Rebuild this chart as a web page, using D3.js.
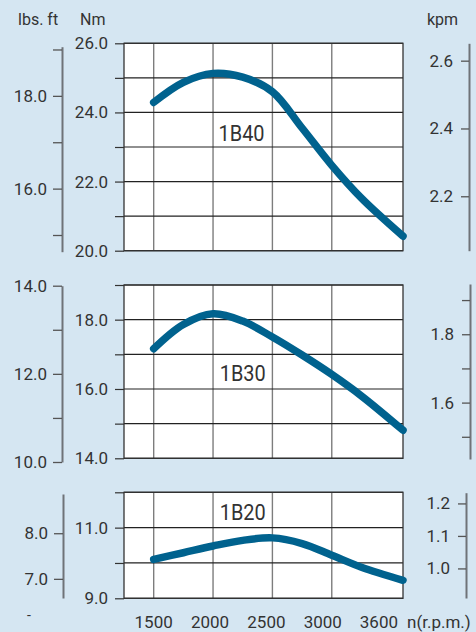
<!DOCTYPE html>
<html>
<head>
<meta charset="utf-8">
<script src="https://cdn.jsdelivr.net/npm/d3@7"></script>
<style>
  body { margin: 0; background: #d5e6f2; }
  svg { display: block; }
  text { font-family: Roboto, "Liberation Sans", sans-serif; fill: #333; }
</style>
</head>
<body>
<svg id="chart" width="476" height="632"></svg>
<script>
// engine speed (r.p.m.)
const rpm = [1500, 1750, 2000, 2250, 2500, 2750, 3000, 3250, 3600];
// torque curves, Nm
const torque1B40 = [24.29, 24.87, 25.13, 25.02, 24.60, 23.55, 22.47, 21.52, 20.42];
const torque1B30 = [17.16, 17.86, 18.17, 17.96, 17.50, 16.98, 16.42, 15.80, 14.81];
const torque1B20 = [10.10, 10.29, 10.48, 10.64, 10.71, 10.55, 10.22, 9.88, 9.51];
const models = ["1B40", "1B30", "1B20"];

// tick values
const rpmGrid = [1500, 2000, 2500, 3000];
const rpmLabels = ["1500", "2000", "2500", "3000"];
const nmTicks = [[20, 21, 22, 23, 24, 25, 26], [14, 15, 16, 17, 18, 19], [9, 10, 11, 12]];
const nmLabels = [[20, 22, 24, 26], [14, 16, 18], [9, 11]];
const lbsTicks = [[15, 16, 17, 18, 19], [10, 11, 12, 13, 14], [7, 8]];
const lbsLabels = [[16, 18], [10, 12, 14], [7, 8]];
const kpmTicks = [[2.2, 2.4, 2.6], [1.5, 1.6, 1.7, 1.8, 1.9], [1.0, 1.1, 1.2]];
const kpmLabels = [[2.2, 2.4, 2.6], [1.6, 1.8], [1.0, 1.1, 1.2]];

const svg = d3.select("#chart");
const W = 476, H = 632;
svg.append("rect").attr("width", W).attr("height", H).attr("fill", "#d5e6f2");

const x = d3.scaleLinear().domain([1250, 3600]).range([124, 403]);

// panel layout (pixel extents and axis domains)
const panels = [
	{ data: torque1B40, top: 43.3, bottom: 250.7, nm: [20, 26],
	  lbsX: 62, lbs: [14.64, 19.06], lbsRange: [251.7, 46.7],
	  kpmX: 469, kpm: [20 / 9.80665, 26 / 9.80665], kpmRange: [250.7, 43.3],
	  label: [2240, 23.18] },
	{ data: torque1B30, top: 285, bottom: 458.3, nm: [14, 19],
	  lbsX: 62, lbs: [10, 14], lbsRange: [462, 285.7],
	  kpmX: 470, kpm: [1.435, 1.947], kpmRange: [459, 284],
	  label: [2250, 16.24] },
	{ data: torque1B20, top: 492.3, bottom: 598.3, nm: [9, 12],
	  lbsX: 63, lbs: [6.58, 8.86], lbsRange: [598, 494],
	  kpmX: 466, kpm: [0.909, 1.233], kpmRange: [598, 492.7],
	  label: [2250, 11.23] }
];

const fmt = d3.format(".1f");

panels.forEach((p, i) => {
	const y = d3.scaleLinear().domain(p.nm).range([p.bottom, p.top]);
	const g = svg.append("g").attr("class", `panel_${i}`);

	// plot background
	g.append("rect")
		.attr("x", x.range()[0]).attr("y", p.top)
		.attr("width", x.range()[1] - x.range()[0])
		.attr("height", p.bottom - p.top)
		.attr("fill", "#fff");

	// vertical grid (gray)
	g.selectAll(".vgrid")
		.data(rpmGrid)
		.enter()
		.append("line")
		.attr("x1", d => x(d)).attr("x2", d => x(d))
		.attr("y1", p.top).attr("y2", p.bottom)
		.attr("stroke", "#7d7d7d")
		.attr("stroke-width", 1.4);

	// horizontal grid (dark)
	g.selectAll(".hgrid")
		.data(nmTicks[i])
		.enter()
		.append("line")
		.attr("x1", x.range()[0]).attr("x2", x.range()[1])
		.attr("y1", d => y(d)).attr("y2", d => y(d))
		.attr("stroke", "#222")
		.attr("stroke-width", 1.2);

	// frame
	g.append("rect")
		.attr("x", x.range()[0]).attr("y", p.top)
		.attr("width", x.range()[1] - x.range()[0])
		.attr("height", p.bottom - p.top)
		.attr("fill", "none")
		.attr("stroke", "#333")
		.attr("stroke-width", 1.3);

	// Nm axis
	const nmAxis = d3.axisLeft(y)
		.tickValues(nmTicks[i])
		.tickSize(9)
		.tickSizeOuter(0)
		.tickPadding(7)
		.tickFormat(d => nmLabels[i].includes(d) ? fmt(d) : "");
	g.append("g")
		.attr("transform", `translate(${x.range()[0]},0)`)
		.call(nmAxis)
		.call(a => a.select(".domain").remove())
		.call(a => a.selectAll("line").attr("stroke", "#333").attr("stroke-width", 1.2))
		.call(a => a.selectAll("text").attr("font-size", 17).attr("fill", "#333"));

	// lbs.ft axis
	const lbsScale = d3.scaleLinear().domain(p.lbs).range(p.lbsRange);
	const lbsAxis = d3.axisLeft(lbsScale)
		.tickValues(lbsTicks[i])
		.tickSize(9)
		.tickSizeOuter(0)
		.tickPadding(6)
		.tickFormat(d => lbsLabels[i].includes(d) ? fmt(d) : "");
	g.append("g")
		.attr("transform", `translate(${p.lbsX},0)`)
		.call(lbsAxis)
		.call(a => a.select(".domain").attr("stroke", "#6f7378").attr("stroke-width", 2))
		.call(a => a.selectAll("line").attr("stroke", "#555").attr("stroke-width", 1.3))
		.call(a => a.selectAll("text").attr("font-size", 17).attr("fill", "#333"));

	// kpm axis
	const kpmScale = d3.scaleLinear().domain(p.kpm).range(p.kpmRange);
	const kpmAxis = d3.axisLeft(kpmScale)
		.tickValues(kpmTicks[i])
		.tickSize(8)
		.tickSizeOuter(0)
		.tickPadding(8)
		.tickFormat(d => kpmLabels[i].some(v => Math.abs(v - d) < 1e-9) ? fmt(d) : "");
	g.append("g")
		.attr("transform", `translate(${p.kpmX},0)`)
		.call(kpmAxis)
		.call(a => a.select(".domain").attr("stroke", "#6f7378").attr("stroke-width", 2))
		.call(a => a.selectAll("line").attr("stroke", "#555").attr("stroke-width", 1.3))
		.call(a => a.selectAll("text").attr("font-size", 17).attr("fill", "#333"));

	// torque curve
	const line = d3.line()
		.x((d, j) => x(rpm[j]))
		.y(d => y(d))
		.curve(d3.curveCatmullRom.alpha(0.5));
	g.append("path")
		.attr("d", line(p.data))
		.attr("fill", "none")
		.attr("stroke", "#00628e")
		.attr("stroke-width", 7.5)
		.attr("stroke-linecap", "round");

	// model label
	g.append("text")
		.attr("x", x(p.label[0]))
		.attr("y", y(p.label[1]))
		.attr("text-anchor", "middle")
		.attr("font-size", 22)
		.attr("textLength", 46)
		.attr("lengthAdjust", "spacingAndGlyphs")
		.text(models[i]);
});

// unit headers
svg.append("text").attr("x", 18).attr("y", 25).attr("font-size", 16).text("lbs. ft");
svg.append("text").attr("x", 80).attr("y", 25).attr("font-size", 16).text("Nm");
svg.append("text").attr("x", 427).attr("y", 25).attr("font-size", 16).text("kpm");
svg.append("text").attr("x", 27).attr("y", 620).attr("font-size", 14).text("-");

// rpm labels
svg.selectAll(".rpmLabel")
	.data(rpmGrid)
	.enter()
	.append("text")
	.attr("x", (d, i) => x(d) - i * 3)
	.attr("y", 628)
	.attr("text-anchor", "middle")
	.attr("font-size", 17)
	.text((d, i) => rpmLabels[i]);

svg.append("text")
	.attr("x", x(3600) - 5)
	.attr("y", 628)
	.attr("text-anchor", "end")
	.attr("font-size", 17)
	.text("3600");
svg.append("text")
	.attr("x", 407)
	.attr("y", 628)
	.attr("font-size", 17)
	.text("n(r.p.m.)");
</script>
</body>
</html>
